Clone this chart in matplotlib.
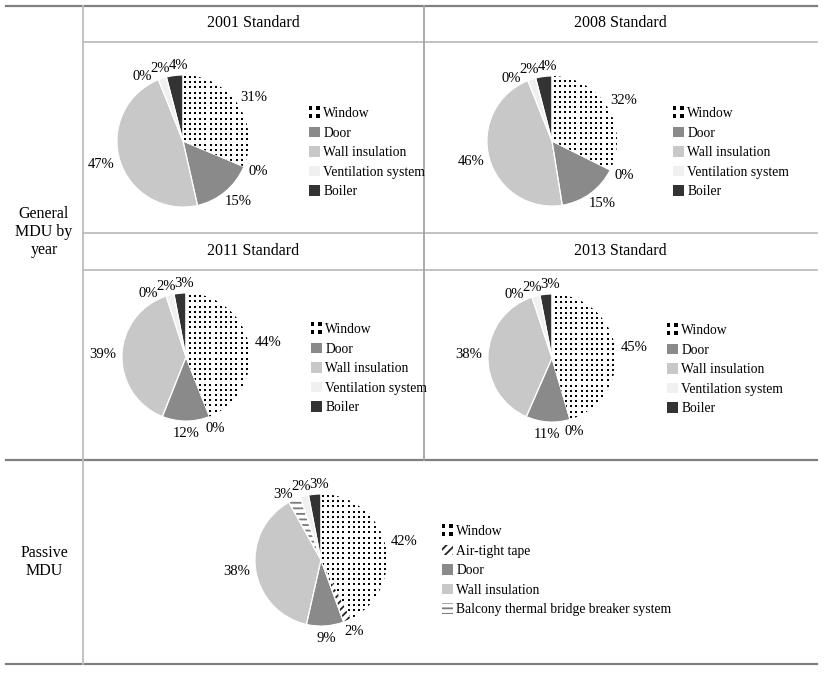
import numpy as np
import matplotlib
matplotlib.use("Agg")
import matplotlib.pyplot as plt
from matplotlib.lines import Line2D
from matplotlib.patches import Patch, Rectangle
from matplotlib.legend_handler import HandlerBase

W, H = 827, 676
plt.rcParams['font.family'] = ['Liberation Serif', 'DejaVu Serif']
plt.rcParams['hatch.linewidth'] = 1.3

# ---------------------------------------------------------------- data
parts = ['Window', 'Air-tight tape', 'Door', 'Wall insulation',
         'Balcony thermal bridge breaker system', 'Ventilation system', 'Boiler']
std_titles = ['2001 Standard', '2008 Standard', '2011 Standard', '2013 Standard']
std_2001 = [31, 0, 15, 47, 0, 2, 4]
std_2008 = [32, 0, 15, 46, 0, 2, 4]
std_2011 = [44, 0, 12, 39, 0, 2, 3]
std_2013 = [45, 0, 11, 38, 0, 2, 3]
passive = [42, 2, 9, 38, 3, 2, 3]
general_legend = ['Window', 'Door', 'Wall insulation', 'Ventilation system', 'Boiler']
passive_legend = ['Window', 'Air-tight tape', 'Door', 'Wall insulation',
                  'Balcony thermal bridge breaker system']
row_labels = ['General\nMDU by\nyear', 'Passive\nMDU']

# fill style per part: (face, hatch colour, hatch)
style = {
    'Window': ('white', 'white', None),
    'Air-tight tape': ('white', '#222222', '////'),
    'Door': ('#8a8a8a', '#8a8a8a', None),
    'Wall insulation': ('#c8c8c8', '#c8c8c8', None),
    'Balcony thermal bridge breaker system': ('white', '#7a7a7a', '---'),
    'Ventilation system': ('#f0f0f0', '#f0f0f0', None),
    'Boiler': ('#333333', '#333333', None),
}

fig = plt.figure(figsize=(W / 100, H / 100), dpi=100)
renderer = fig.canvas.get_renderer()


def hline(y, x0, x1, color, lw):
    fig.add_artist(Line2D([x0 / W, x1 / W], [1 - y / H, 1 - y / H],
                          transform=fig.transFigure, color=color, lw=lw))


def vline(x, y0, y1, color, lw):
    fig.add_artist(Line2D([x / W, x / W], [1 - y0 / H, 1 - y1 / H],
                          transform=fig.transFigure, color=color, lw=lw))


def ftext(x, y, s, **kw):
    fig.text(x / W, 1 - y / H, s, ha='center', va='center', **kw)


class DotHandler(HandlerBase):
    def create_artists(self, legend, orig_handle, xdescent, ydescent,
                       width, height, fontsize, trans):
        s = 2.8
        x0 = -xdescent + (width - 8.5) / 2
        y0 = -ydescent + (height - 8.5) / 2
        out = []
        for i in (0, 1):
            for j in (0, 1):
                out.append(Rectangle((x0 + i * 5.7, y0 + j * 5.7), s, s,
                                     fc='black', ec='none', transform=trans))
        return out


def draw_pie(vals, cx, cy, r, legend_parts, lx, ly):
    ax = fig.add_axes([(cx - r) / W, 1 - (cy + r) / H, 2 * r / W, 2 * r / H])
    wedges, texts = ax.pie(vals, labels=[f'{v}%' for v in vals], startangle=90,
                           counterclock=False, labeldistance=1.1,
                           wedgeprops=dict(linewidth=0),
                           textprops=dict(fontsize=10.5))
    # place labels just outside the rim, box touching the rim
    for w, t in zip(wedges[:4], texts[:4]):
        th = np.deg2rad((w.theta1 + w.theta2) / 2)
        u = np.array([np.cos(th), np.sin(th)])
        bb = t.get_window_extent(renderer)
        off = (r + 6) * u + np.array([bb.width / 2 * u[0], bb.height / 2 * u[1]])
        t.set_position(tuple(off / r))
        t.set_ha('center')
        t.set_va('center')
    # spread the crowded labels of the small slices near the top
    d = 1.15
    th = np.deg2rad((wedges[6].theta1 + wedges[6].theta2) / 2)
    bx = d * np.cos(th) + 5 / r
    gap = 18 / r
    for t, x in zip(texts[4:], [bx - 2 * gap, bx - gap, bx]):
        t.set_position((x, np.sqrt(d ** 2 - x ** 2)))
        t.set_ha('center')
        t.set_va('center')

    for w, p in zip(wedges, parts):
        fc, hc, hatch = style[p]
        w.set_facecolor(fc)
        w.set_edgecolor(hc)
        if hatch:
            w.set_hatch(hatch)
    # window dots
    win = wedges[0]
    step = 5.2 / r
    g = np.arange(-1, 1 + step, step)
    gx, gy = np.meshgrid(g, g)
    sc = ax.scatter(gx.ravel(), gy.ravel(), s=3.2, marker='s', c='black',
                    linewidths=0, zorder=3)
    sc.set_clip_path(win)
    # white separators
    ax.pie(vals, startangle=90, counterclock=False,
           wedgeprops=dict(fill=False, edgecolor='white', linewidth=0.8))
    ax.set_xlim(-1, 1)
    ax.set_ylim(-1, 1)

    handles = []
    hmap = {}
    for p in legend_parts:
        fc, hc, hatch = style[p]
        h = Patch(facecolor=fc, edgecolor=hc, hatch=hatch, linewidth=0, label=p)
        if p == 'Window':
            hmap[h] = DotHandler()
        handles.append(h)
    fig.legend(handles=handles, handler_map=hmap, loc='upper left',
               bbox_to_anchor=(lx / W, 1 - ly / H), frameon=False,
               fontsize=9.8, borderpad=0, handlelength=0.8, handleheight=0.8,
               handletextpad=0.25, labelspacing=0.48, borderaxespad=0)


# table rules
dark, light = '#808080', '#bdbdbd'
hline(6, 6, 817, dark, 1.6)
hline(42, 83, 817, light, 1.3)
hline(233, 83, 817, light, 1.3)
hline(270, 83, 817, light, 1.3)
hline(460, 6, 817, dark, 1.6)
hline(664, 6, 817, dark, 1.6)
vline(83, 6, 664, light, 1.3)
vline(424, 6, 460, '#a5a5a5', 1.3)

# titles
title_pos = [(253, 23), (620, 23), (253, 251), (620, 251)]
for t, (x, y) in zip(std_titles, title_pos):
    ftext(x, y, t, fontsize=11.5)
ftext(44, 232, row_labels[0], fontsize=11.5, linespacing=1.2)
ftext(44, 562, row_labels[1], fontsize=11.5, linespacing=1.2)

# pies
draw_pie(std_2001, 183, 141, 66, general_legend, 309, 107)
draw_pie(std_2008, 552, 141, 65, general_legend, 673, 107)
draw_pie(std_2011, 186, 357, 64, general_legend, 311, 323)
draw_pie(std_2013, 552, 358, 64, general_legend, 667, 324)
draw_pie(passive, 321, 560, 66, passive_legend, 442, 525)

fig.savefig('out.png', dpi=100)
